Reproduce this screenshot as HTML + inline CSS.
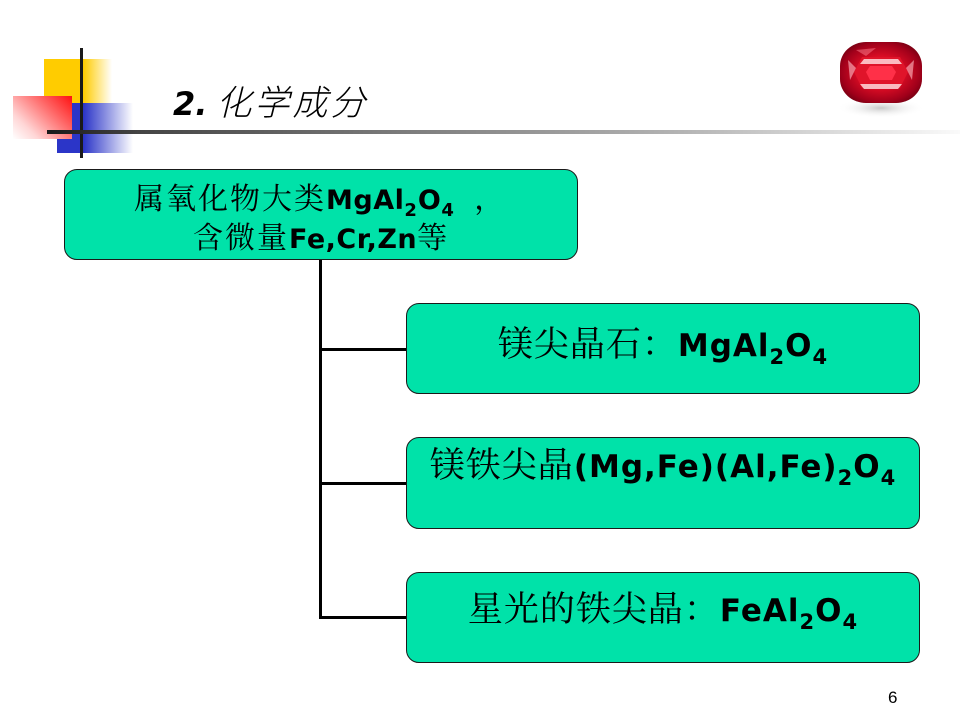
<!DOCTYPE html>
<html><head><meta charset="utf-8">
<style>
html,body{margin:0;padding:0;}
body{width:960px;height:720px;position:relative;background:#fff;overflow:hidden;
font-family:"Liberation Sans","Noto Serif CJK SC",serif;}
.abs{position:absolute;}
.box{position:absolute;background:#00E2A9;border:1.5px solid #1a1a1a;border-radius:13px;box-sizing:border-box;}
.t{position:absolute;white-space:nowrap;text-align:center;color:#000;}
.cj{font-family:"Noto Serif CJK SC","Noto Sans CJK SC",serif;font-weight:400;font-size:35px;letter-spacing:1px;}
.lt{font-family:"DejaVu Sans","Liberation Sans",sans-serif;font-weight:bold;font-size:31px;letter-spacing:1px;}
.sb{font-family:"DejaVu Sans","Liberation Sans",sans-serif;font-weight:bold;font-size:21px;position:relative;top:8px;letter-spacing:1px;}
.b1 .cj{font-size:30px;letter-spacing:2px;}
.b1 .lt{font-size:27px;letter-spacing:0.5px;}
.b1 .sb{font-size:18px;top:7px;}
</style></head><body>

<!-- decoration -->
<div class="abs" style="left:44px;top:59px;width:68px;height:44px;background:linear-gradient(90deg,#FFCC00 0%,#FFCC00 58%,rgba(255,204,0,0) 100%);"></div>
<div class="abs" style="left:57px;top:103px;width:76px;height:50px;background:linear-gradient(90deg,#2B35C8 0%,#2B35C8 35%,rgba(43,53,200,0) 100%);"></div>
<div class="abs" style="left:13px;top:96px;width:59px;height:43px;background:linear-gradient(225deg,#FF1010 0%,#FF6A6A 35%,#FFD6D6 75%,#ffffff 100%);"></div>
<div class="abs" style="left:80px;top:48px;width:3px;height:110px;background:#1a1a1a;"></div>
<div class="abs" style="left:47px;top:130px;width:913px;height:4px;background:linear-gradient(90deg,#1a1a1a 0%,#444 10%,#7a7a7a 38%,#b5b5b5 70%,#e8e8e8 92%,#fafafa 100%);"></div>

<!-- title -->
<div class="t" style="left:173px;top:80px;line-height:42px;text-align:left;">
<span style="font-family:'DejaVu Sans',sans-serif;font-weight:bold;font-style:italic;font-size:32px;">2.</span><span style="font-family:'Noto Sans CJK SC',sans-serif;font-style:italic;font-size:35px;font-weight:300;letter-spacing:3px;margin-left:9px;">化学成分</span>
</div>

<!-- gem -->
<svg class="abs" style="left:826px;top:30px;" width="110" height="95" viewBox="0 0 110 95">
<defs>
<radialGradient id="g1" cx="50%" cy="50%" r="60%">
<stop offset="0%" stop-color="#ff3a4a"/>
<stop offset="45%" stop-color="#d80c24"/>
<stop offset="80%" stop-color="#a0001a"/>
<stop offset="100%" stop-color="#6a0010"/>
</radialGradient>
<radialGradient id="sh" cx="50%" cy="50%" r="50%">
<stop offset="0%" stop-color="#c8c8c8"/>
<stop offset="100%" stop-color="#ffffff" stop-opacity="0"/>
</radialGradient>
</defs>
<ellipse cx="55" cy="78" rx="44" ry="10" fill="url(#sh)"/>
<rect x="14" y="12" width="82" height="61" rx="26" ry="24" fill="url(#g1)"/>
<polygon points="36,27 74,27 82,42 74,58 36,58 28,42" fill="#e0142a"/>
<polygon points="38,29 72,29 76,34 34,34" fill="#ffd8dc" opacity="0.85"/>
<polygon points="34,54 76,54 72,59 38,59" fill="#ffe4e6" opacity="0.8"/>
<polygon points="44,36 66,36 70,42 66,50 44,50 40,42" fill="#ff3048"/>
<polygon points="22,30 30,38 24,50" fill="#ffc0c8" opacity="0.6"/>
<polygon points="88,30 80,38 86,50" fill="#ffc0c8" opacity="0.6"/>
<polygon points="30,20 50,18 40,26" fill="#ff8090" opacity="0.5"/>
</svg>

<!-- connectors -->
<div class="abs" style="left:319px;top:259px;width:3px;height:360px;background:#000;"></div>
<div class="abs" style="left:319px;top:348px;width:88px;height:3px;background:#000;"></div>
<div class="abs" style="left:319px;top:482px;width:88px;height:3px;background:#000;"></div>
<div class="abs" style="left:319px;top:616px;width:88px;height:3px;background:#000;"></div>

<!-- boxes -->
<div class="box" style="left:64px;top:169px;width:514px;height:91px;"></div>
<div class="box" style="left:406px;top:303px;width:514px;height:91px;"></div>
<div class="box" style="left:406px;top:437px;width:514px;height:92px;"></div>
<div class="box" style="left:406px;top:572px;width:514px;height:91px;"></div>

<!-- box1 text -->
<div class="t b1" style="left:134px;top:178px;line-height:36px;text-align:left;">
<span class="cj">属氧化物大类</span><span class="lt">MgAl</span><span class="sb">2</span><span class="lt">O</span><span class="sb">4</span><span class="cj">&nbsp;&nbsp;，</span>
</div>
<div class="t b1" style="left:193px;top:217px;line-height:36px;text-align:left;">
<span class="cj">含微量</span><span class="lt">Fe,Cr,Zn</span><span class="cj">等</span>
</div>

<!-- box2 text -->
<div class="t" style="left:406px;width:514px;top:323px;line-height:38px;">
<span class="cj">镁尖晶石：</span><span class="lt">MgAl</span><span class="sb">2</span><span class="lt">O</span><span class="sb">4</span>
</div>

<!-- box3 text -->
<div class="t" style="left:406px;width:514px;top:444px;line-height:38px;">
<span class="cj">镁铁尖晶</span><span class="lt">(Mg,Fe)(Al,Fe)</span><span class="sb">2</span><span class="lt">O</span><span class="sb">4</span>
</div>

<!-- box4 text -->
<div class="t" style="left:406px;width:514px;top:588px;line-height:38px;">
<span class="cj">星光的铁尖晶：</span><span class="lt">FeAl</span><span class="sb">2</span><span class="lt">O</span><span class="sb">4</span>
</div>

<!-- page number -->
<div class="t" style="left:888px;top:688px;font-family:'Liberation Sans',sans-serif;font-size:17px;line-height:20px;">6</div>

</body></html>
